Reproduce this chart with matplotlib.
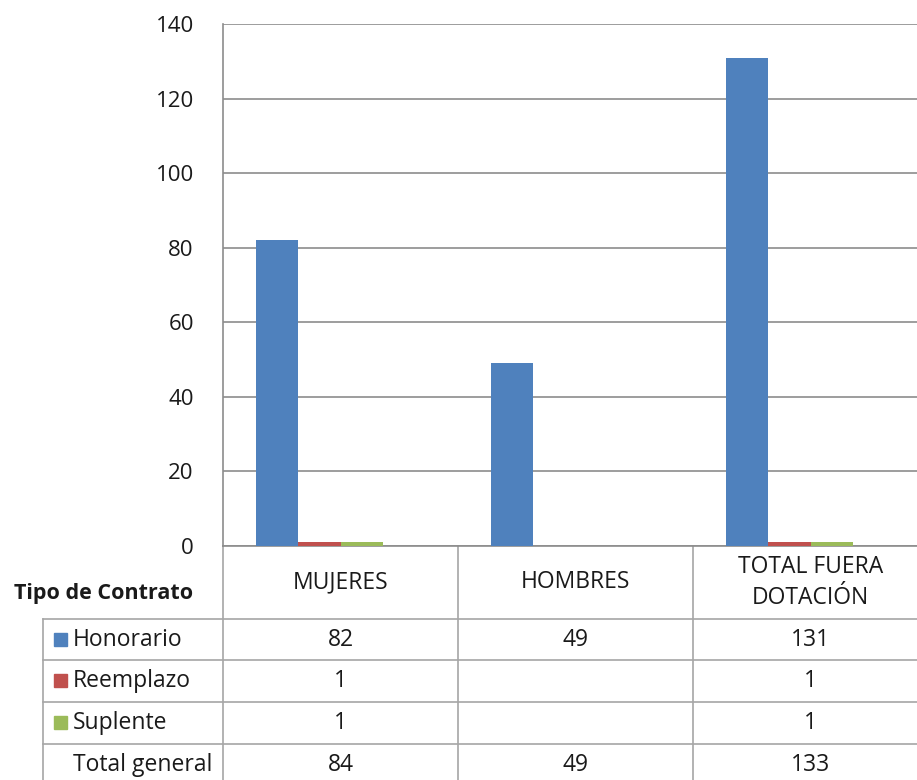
import matplotlib.pyplot as plt
import matplotlib.transforms as mtransforms
import numpy as np

plt.rcParams['font.family'] = ['Open Sans', 'DejaVu Sans']

# data
categorias = ['MUJERES', 'HOMBRES', 'TOTAL FUERA\nDOTACIÓN']
series = ['Honorario', 'Reemplazo', 'Suplente']
honorario = [82, 49, 131]
reemplazo = [1, None, 1]
suplente = [1, None, 1]
total_general = [84, 49, 133]
colores = ['#4F81BD', '#C0504D', '#9BBB59']

W, H = 917, 780
fs = 16.5
txt = '#1a1a1a'
gris = '#8c8c8c'
linea_tabla = '#a6a6a6'

fig = plt.figure(figsize=(W / 100, H / 100), dpi=100)

# table layer in pixel coordinates
ax_t = fig.add_axes([0, 0, 1, 1])
ax_t.set_xlim(0, W)
ax_t.set_ylim(H, 0)
ax_t.axis('off')

# chart area (right edge runs off the image like the reference)
x0, x1, ytop, ybot = 223, 928, 24, 546
ax = fig.add_axes([x0 / W, (H - ybot) / H, (x1 - x0) / W, (ybot - ytop) / H])

x = np.arange(len(categorias))
w = 0.18
valores = [honorario, reemplazo, suplente]
for k, (vals, c) in enumerate(zip(valores, colores)):
    v = [0 if a is None else a for a in vals]
    ax.bar(x + (k - 1.5) * w, v, width=w, color=c, zorder=3)

ax.set_xlim(-0.5, len(categorias) - 0.5)
ax.set_ylim(0, 140)
ax.set_yticks(np.arange(0, 141, 20))
ax.set_xticks([])
ax.grid(axis='y', color=gris, linewidth=1.2)
ax.tick_params(axis='y', length=0, pad=21, labelsize=16, labelcolor=txt)
for s in ['top', 'right']:
    ax.spines[s].set_visible(False)
for s in ['left', 'bottom']:
    ax.spines[s].set_color(gris)
    ax.spines[s].set_linewidth(1.2)

# table below, x tied to chart categories
tr = mtransforms.blended_transform_factory(ax.transData, ax_t.transData)
filas = [619, 660, 702, 744, 786]
izq = 43

for i in range(len(categorias) + 1):
    ax_t.plot([i - 0.5, i - 0.5], [ybot, H], transform=tr, color=linea_tabla, lw=1.2)
ax_t.plot([izq, izq], [filas[0], H], color=linea_tabla, lw=1.2)
for yy in filas[:-1]:
    ax_t.plot([izq, W], [yy, yy], color=linea_tabla, lw=1.2)

ax_t.text(14, 593, 'Tipo de Contrato', fontsize=15.5, fontweight='bold',
          color=txt, ha='left', va='center')
for i, cat in enumerate(categorias):
    ax_t.text(i, (ybot + filas[0]) / 2, cat, transform=tr, fontsize=fs, color=txt,
              ha='center', va='center', linespacing=1.35)

etiquetas = series + ['Total general']
tabla = valores + [total_general]
for r, (lab, vals) in enumerate(zip(etiquetas, tabla)):
    yc = (filas[r] + filas[r + 1]) / 2
    if r < len(series):
        ax_t.add_patch(plt.Rectangle((54, yc - 7), 13, 13, color=colores[r]))
    ax_t.text(73, yc, lab, fontsize=fs, color=txt, ha='left', va='center')
    for i, v in enumerate(vals):
        if v is not None:
            ax_t.text(i, yc, str(v), transform=tr, fontsize=fs, color=txt,
                      ha='center', va='center')

fig.savefig('out.png', dpi=100)
